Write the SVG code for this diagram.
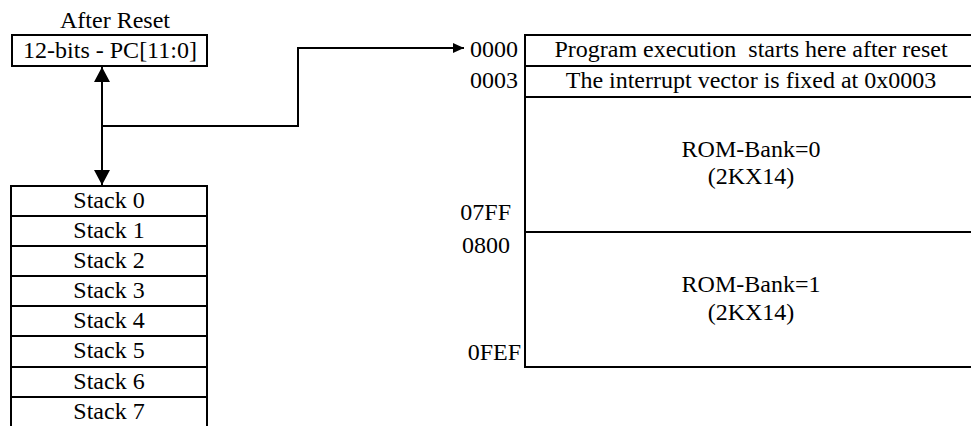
<svg xmlns="http://www.w3.org/2000/svg" width="971" height="426" viewBox="0 0 971 426">
<style>
text{font-family:"Liberation Serif","Times New Roman",serif;font-size:24px;fill:#000;white-space:pre}
.c{text-anchor:middle}
.r{text-anchor:end}
.box{fill:#fff;stroke:#000;stroke-width:2}
.ln{fill:none;stroke:#000;stroke-width:2}
</style>
<defs>
<marker id="big" viewBox="0 0 15 16" refX="15" refY="8" markerWidth="15" markerHeight="16" markerUnits="userSpaceOnUse" orient="auto-start-reverse">
<path d="M0,0 L15,8 L0,16 z" fill="#000"/>
</marker>
<marker id="small" viewBox="0 0 11 10" refX="11" refY="5" markerWidth="11" markerHeight="10" markerUnits="userSpaceOnUse" orient="auto">
<path d="M0,0 L11,5 L0,10 z" fill="#000"/>
</marker>
</defs>
<rect width="971" height="426" fill="#fff"/>
<g id="pc">
<text class="c" x="115" y="28">After Reset</text>
<rect class="box" x="12" y="35" width="195" height="31"/>
<text class="c" x="110" y="58">12-bits - PC[11:0]</text>
</g>
<g id="stack">
<rect class="box" x="11" y="186" width="196" height="30"/>
<text class="c" x="109" y="208">Stack 0</text>
<rect class="box" x="11" y="216" width="196" height="30"/>
<text class="c" x="109" y="238">Stack 1</text>
<rect class="box" x="11" y="246" width="196" height="30"/>
<text class="c" x="109" y="268">Stack 2</text>
<rect class="box" x="11" y="276" width="196" height="30"/>
<text class="c" x="109" y="298">Stack 3</text>
<rect class="box" x="11" y="306" width="196" height="30"/>
<text class="c" x="109" y="328">Stack 4</text>
<rect class="box" x="11" y="336" width="196" height="31"/>
<text class="c" x="109" y="358">Stack 5</text>
<rect class="box" x="11" y="367" width="196" height="30"/>
<text class="c" x="109" y="389">Stack 6</text>
<rect class="box" x="11" y="397" width="196" height="40"/>
<text class="c" x="109" y="419">Stack 7</text>
</g>
<g id="rom">
<rect class="box" x="525" y="35" width="460" height="332"/>
<line class="ln" x1="525" y1="66" x2="971" y2="66"/>
<line class="ln" x1="525" y1="97" x2="971" y2="97"/>
<line class="ln" x1="525" y1="232" x2="971" y2="232"/>
<text class="c" x="751" y="57" xml:space="preserve">Program execution  starts here after reset</text>
<text class="c" x="751" y="88">The interrupt vector is fixed at 0x0003</text>
<text class="c" x="751" y="157">ROM-Bank=0</text>
<text class="c" x="751" y="184">(2KX14)</text>
<text class="c" x="751" y="292">ROM-Bank=1</text>
<text class="c" x="751" y="320">(2KX14)</text>
</g>
<g id="addresses">
<text class="r" x="518" y="57">0000</text>
<text class="r" x="518" y="88">0003</text>
<text class="r" x="511" y="220">07FF</text>
<text class="r" x="510" y="253">0800</text>
<text class="r" x="521" y="360">0FEF</text>
</g>
<g id="connectors">
<line class="ln" x1="102" y1="67" x2="102" y2="185" marker-start="url(#big)" marker-end="url(#big)"/>
<polyline class="ln" points="102,126 298,126 298,48 464,48" marker-end="url(#small)"/>
</g>
</svg>
